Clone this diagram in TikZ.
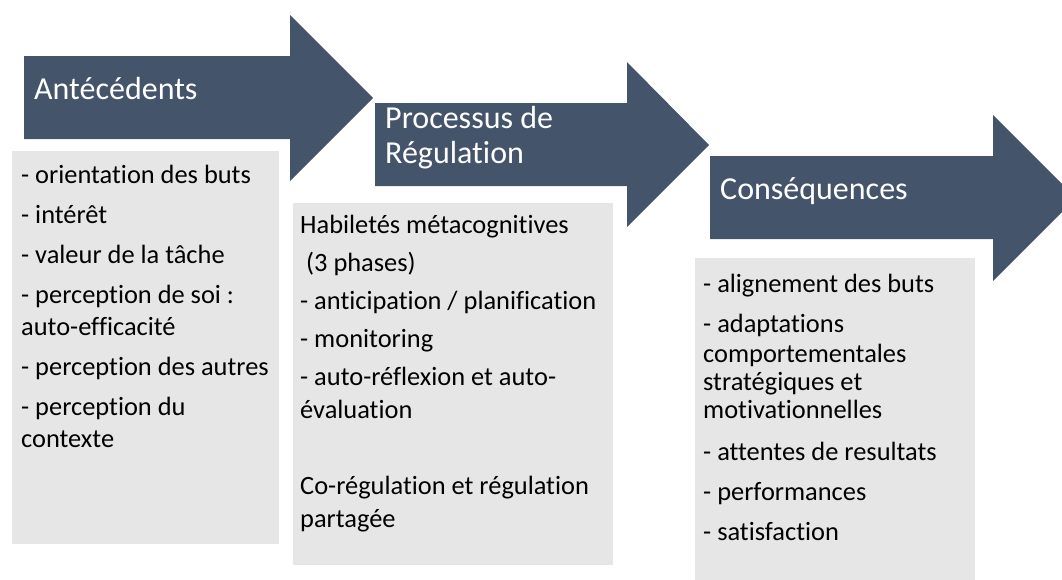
\documentclass[tikz,border=0pt]{standalone}
\usepackage{fontspec}
\setmainfont{Carlito}[Ligatures=NoCommon]
\definecolor{arrowblue}{HTML}{44546A}
\definecolor{boxgray}{HTML}{E7E6E6}
\tikzset{
  bigarrow/.style={fill=arrowblue, draw=none},
  graybox/.style={fill=boxgray, draw=none},
  headtext/.style={anchor=base west, inner sep=0pt, text=white, font=\fontsize{32}{34}\selectfont},
  bodytext/.style={anchor=base west, inner sep=0pt, text=black, font=\fontsize{26.4}{30}\selectfont},
}
\begin{document}
\begin{tikzpicture}[x=1pt,y=-1pt]
\useasboundingbox[clip] (0,0) rectangle (1062,579);
% arrows
\fill[bigarrow] (24,56) -- (290,56) -- (290,15) -- (373,98) -- (290,181) -- (290,139) -- (24,139) -- cycle;
\fill[bigarrow] (375,103) -- (627,103) -- (627,62) -- (709,145) -- (627,227) -- (627,186) -- (375,186) -- cycle;
\fill[bigarrow] (710,156) -- (993,156) -- (993,115) -- (1076,198) -- (993,281) -- (993,239) -- (710,239) -- cycle;
% boxes
\fill[graybox] (12,151) rectangle (279,544);
\fill[graybox] (293,203) rectangle (613,565);
\fill[graybox] (695,258) rectangle (975,590);
% headers
\node[headtext] (h1) at (34,99) {Antécédents};
\node[headtext] (h2a) at (385,128) {Processus de};
\node[headtext] (h2b) at (385,163) {Régulation};
\node[headtext] (h3) at (720,199) {Conséquences};
% box 1
\node[bodytext] (a1) at (21,183) {- orientation des buts};
\node[bodytext] (a2) at (21,223) {- intérêt};
\node[bodytext] (a3) at (21,263) {- valeur de la tâche};
\node[bodytext] (a4) at (21,303) {- perception de soi :};
\node[bodytext] (a5) at (21,335) {auto-efficacité};
\node[bodytext] (a6) at (21,375) {- perception des autres};
\node[bodytext] (a7) at (21,415) {- perception du};
\node[bodytext] (a8) at (21,447) {contexte};
% box 2
\node[bodytext] (b1) at (300,233) {Habiletés métacognitives};
\node[bodytext] (b2) at (300,271) {\ (3 phases)};
\node[bodytext] (b3) at (300,309) {- anticipation / planification};
\node[bodytext] (b4) at (300,347) {- monitoring};
\node[bodytext] (b5) at (300,385) {- auto-réflexion et auto-};
\node[bodytext] (b6) at (300,418) {évaluation};
\node[bodytext] (b7) at (300,494) {Co-régulation et régulation};
\node[bodytext] (b8) at (300,527) {partagée};
% box 3
\node[bodytext] (c1) at (703,292) {- alignement des buts};
\node[bodytext] (c2) at (703,332) {- adaptations};
\node[bodytext] (c3) at (703,362) {comportementales};
\node[bodytext] (c4) at (703,390) {stratégiques et};
\node[bodytext] (c5) at (703,418) {motivationnelles};
\node[bodytext] (c6) at (703,460) {- attentes de resultats};
\node[bodytext] (c7) at (703,500) {- performances};
\node[bodytext] (c8) at (703,540) {- satisfaction};
\end{tikzpicture}
\end{document}
